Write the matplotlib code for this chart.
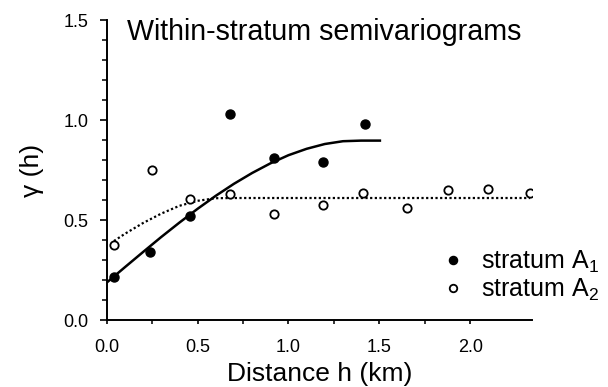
import matplotlib
matplotlib.use('Agg')
import matplotlib.pyplot as plt
from matplotlib.ticker import MultipleLocator, FixedLocator

plt.rcParams['font.family'] = ['Liberation Sans', 'DejaVu Sans']
plt.rcParams['mathtext.fontset'] = 'custom'
plt.rcParams['mathtext.rm'] = 'Liberation Sans'
plt.rcParams['mathtext.it'] = 'Liberation Sans:italic'

# empirijski semivariogrami (očitano sa slike)
h_a1 = [0.04, 0.24, 0.46, 0.68, 0.92, 1.19, 1.42]
g_a1 = [0.215, 0.34, 0.52, 1.03, 0.81, 0.79, 0.98]

h_a2 = [0.04, 0.25, 0.46, 0.68, 0.92, 1.19, 1.41, 1.65, 1.88, 2.10, 2.33]
g_a2 = [0.375, 0.75, 0.605, 0.63, 0.53, 0.576, 0.635, 0.56, 0.652, 0.655, 0.635]

# modelne krive (očitane tačke duž linija)
h_fit1 = [0.0, 0.1, 0.2, 0.3, 0.4, 0.5, 0.6, 0.7, 0.8, 0.9, 1.0, 1.1, 1.2, 1.3, 1.4, 1.51]
g_fit1 = [0.187, 0.264, 0.340, 0.415, 0.487, 0.556, 0.621, 0.681, 0.735, 0.783,
          0.824, 0.856, 0.880, 0.894, 0.897, 0.897]

h_fit2 = [0.04, 0.1, 0.2, 0.3, 0.4, 0.5, 0.6, 0.7, 2.33]
g_fit2 = [0.395, 0.431, 0.485, 0.532, 0.571, 0.596, 0.609, 0.61, 0.61]

x_ticks = [0.0, 0.5, 1.0, 1.5, 2.0]
x_minor = [0.25, 0.75, 1.25, 1.75]
y_ticks = [0.0, 0.5, 1.0, 1.5]

fig = plt.figure(figsize=(6.08, 3.87), dpi=100)
ax = fig.add_axes([0.1755, 0.1731, 0.6995, 0.7752])

ax.plot(h_fit1, g_fit1, color='black', lw=1.8, solid_capstyle='butt')
ax.plot(h_fit2, g_fit2, color='black', lw=1.6, linestyle=(0, (1, 1.1)))
ax.plot(h_a1, g_a1, 'o', color='black', ms=6.5, label=r'stratum A$_\mathregular{1}$')
ax.plot(h_a2, g_a2, 'o', mfc='white', mec='black', mew=1.3, ms=6,
        label=r'stratum A$_\mathregular{2}$')

ax.set_xlim(0, 2.34)
ax.set_ylim(0, 1.5)
ax.set_xticks(x_ticks)
ax.set_yticks(y_ticks)
ax.set_xticklabels([f'{t:.1f}' for t in x_ticks])
ax.set_yticklabels([f'{t:.1f}' for t in y_ticks])
ax.xaxis.set_minor_locator(FixedLocator(x_minor))
ax.yaxis.set_minor_locator(MultipleLocator(0.1))

for side in ['top', 'right']:
    ax.spines[side].set_visible(False)
for side in ['left', 'bottom']:
    ax.spines[side].set_linewidth(1.4)
    ax.spines[side].set_clip_on(False)

ax.tick_params(axis='y', which='major', direction='out', length=5, width=1.2,
               labelsize=13, pad=8)
ax.tick_params(axis='y', which='minor', direction='out', length=3.5, width=1.1)
ax.tick_params(axis='x', which='major', direction='out', length=3, width=1.2,
               labelsize=13, pad=11)
ax.tick_params(axis='x', which='minor', direction='out', length=3, width=1.1)

ax.set_xlabel('Distance h (km)', fontsize=19, labelpad=4)
ax.set_ylabel('γ (h)', fontsize=19, labelpad=14)

ax.text(0.11, 1.40, 'Within-stratum semivariograms', fontsize=20.6, va='baseline')

ax.legend(loc='upper left', bbox_to_anchor=(0.7253, 0.3566),
          bbox_transform=fig.transFigure, frameon=False, fontsize=18,
          handlelength=1.0, handletextpad=0.6, labelspacing=0.05,
          borderpad=0, borderaxespad=0, markerscale=0.9)

fig.savefig('out.png', dpi=100)
